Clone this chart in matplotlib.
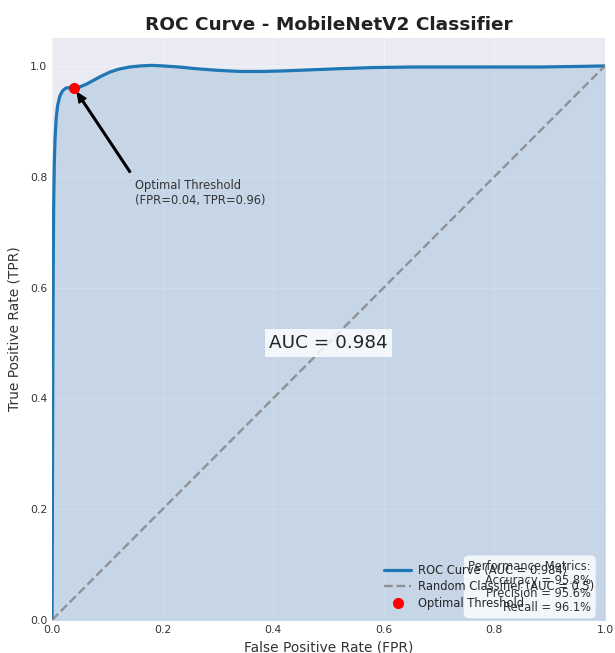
import numpy as np
import matplotlib
matplotlib.use('Agg')
import matplotlib.pyplot as plt

plt.style.use('seaborn-v0_8-darkgrid')
plt.rcParams['font.family'] = ['DejaVu Sans']

# ROC points
fpr = [0.0, 0.0008, 0.0015, 0.0022, 0.003, 0.004, 0.0055, 0.0075, 0.010, 0.014,
       0.019, 0.025, 0.032, 0.040, 0.050, 0.062, 0.075, 0.090, 0.105, 0.120,
       0.140, 0.160, 0.180, 0.200, 0.230, 0.260, 0.300, 0.340, 0.380, 0.420,
       0.470, 0.520, 0.580, 0.650, 0.720, 0.800, 0.880, 0.950, 1.000]
tpr = [0.0, 0.25, 0.48, 0.64, 0.75, 0.82, 0.87, 0.905, 0.928, 0.945,
       0.955, 0.960, 0.961, 0.960, 0.962, 0.967, 0.974, 0.982, 0.989, 0.994,
       0.998, 1.000, 1.001, 1.000, 0.998, 0.995, 0.992, 0.990, 0.990, 0.991,
       0.993, 0.995, 0.997, 0.998, 0.998, 0.998, 0.998, 0.999, 1.000]
roc_auc = 0.984
opt_fpr, opt_tpr = 0.04, 0.96
metrics = {'Accuracy': 95.8, 'Precision': 95.6, 'Recall': 96.1}

blue = '#1f77b4'
small = 8.3

fig = plt.figure(figsize=(6.15, 6.53), dpi=100)
ax = fig.add_axes([0.0846, 0.0505, 0.899, 0.891])
ax.grid(True, alpha=0.35)

ax.plot(fpr, tpr, color=blue, lw=2.3, label=f'ROC Curve (AUC = {roc_auc:.3f})')
ax.fill_between(fpr, tpr, color=blue, alpha=0.17)
ax.plot([0, 1], [0, 1], color='gray', ls='--', lw=1.7, alpha=0.8,
        label='Random Classifier (AUC = 0.5)')
ax.plot(opt_fpr, opt_tpr, 'o', color='red', ms=7, zorder=5, label='Optimal Threshold')

ax.annotate(f'Optimal Threshold\n(FPR={opt_fpr:.2f}, TPR={opt_tpr:.2f})',
            xy=(opt_fpr, opt_tpr), xytext=(opt_fpr + 0.11, opt_tpr - 0.21),
            fontsize=small, color='#333333',
            arrowprops=dict(facecolor='black', edgecolor='black', shrink=0.05,
                            width=1.2, headwidth=6, headlength=7))

ax.text(0.5, 0.5, f'AUC = {roc_auc:.3f}', fontsize=13.2, ha='center', va='center',
        bbox=dict(boxstyle='square,pad=0.25', facecolor='white', edgecolor='none', alpha=0.8))

ax.set_xlim(0, 1)
ax.set_ylim(0, 1.05)
ax.set_xlabel('False Positive Rate (FPR)', fontsize=9.9, color='#333333', labelpad=4)
ax.set_ylabel('True Positive Rate (TPR)', fontsize=9.9, color='#333333', labelpad=6)
ax.set_title('ROC Curve - MobileNetV2 Classifier', fontsize=13.3, fontweight='bold',
             color='#222222', pad=6)
ax.tick_params(labelsize=7.8, colors='#333333', pad=3.5)

ax.legend(loc='lower right', fontsize=small, frameon=False, labelspacing=0.3,
          handlelength=2.4, handletextpad=0.6)

txt = 'Performance Metrics:\n' + '\n'.join(f'{k} = {v}%' for k, v in metrics.items())
ax.text(0.975, 0.011, txt, transform=ax.transAxes, fontsize=small, ha='right', va='bottom',
        multialignment='right', color='#333333', linespacing=1.05,
        bbox=dict(boxstyle='round,pad=0.4', facecolor='white', edgecolor='none', alpha=0.8))

fig.savefig('out.png', dpi=100)
